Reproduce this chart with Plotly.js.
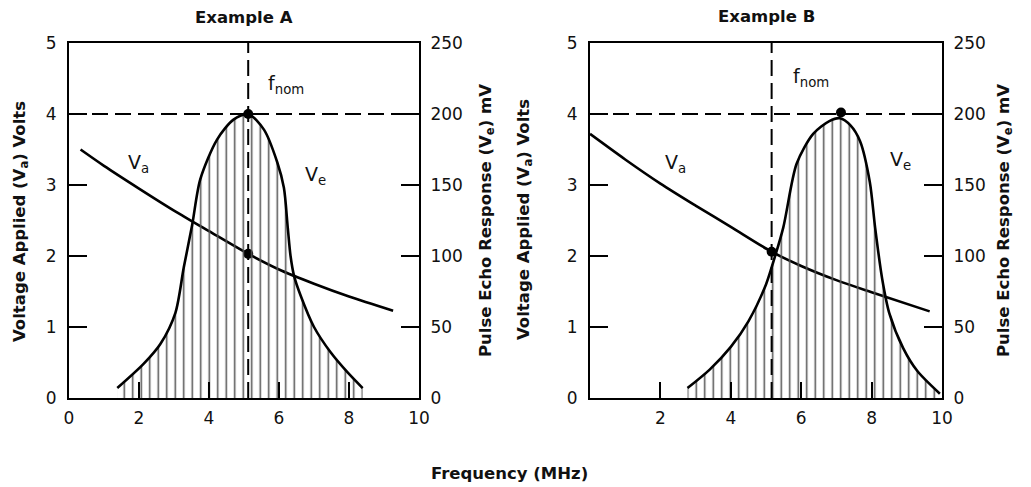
<!DOCTYPE html>
<html>
<head>
<meta charset="utf-8">
<script src="https://cdn.plot.ly/plotly-3.0.1.min.js"></script>
<style>html,body{margin:0;padding:0;background:#fff;}#chart{width:1031px;height:487px;}</style>
</head>
<body>
<div id="chart"></div>
<script>
// ---------- Data ----------
// Example A
const vaAx = [0.33, 1, 2, 3, 4, 5.12, 6, 7, 8, 9.26];
const vaAy = [3.50, 3.27, 2.95, 2.64, 2.35, 2.03, 1.81, 1.61, 1.43, 1.23];           // Volts
const veAx = [1.38, 2.13, 2.61, 3.04, 3.28, 3.52, 3.75, 4.23, 4.7, 5.12, 5.57, 5.95, 6.14, 6.25, 6.33, 6.43, 6.62, 7.0, 7.48, 7.96, 8.39];
const veAy = [7, 24, 38, 60, 92, 122, 154, 182, 196, 200, 189, 166, 148, 120, 100, 86, 72, 50, 32, 18, 7]; // mV
const fNomA = [5.12];
const dotVaA = [2.03];     // Volts at f_nom
const dotVeA = [200];      // mV peak at f_nom
// Example B
const vaBx = [0, 1, 2, 3, 4, 5.16, 6, 7, 8, 9.65];
const vaBy = [3.72, 3.36, 3.02, 2.71, 2.41, 2.06, 1.86, 1.66, 1.49, 1.22];           // Volts
const veBx = [2.77, 3.4, 4.0, 4.5, 5.0, 5.16, 5.49, 5.87, 6.34, 6.8, 7.1, 7.4, 7.67, 7.95, 8.10, 8.3, 8.5, 8.9, 9.3, 9.94];
const veBy = [7, 20, 36, 54, 80, 92, 120, 165, 186, 195, 197, 192, 181, 152, 120, 84, 60, 35, 19, 3]; // mV
const fNomB = [5.16];
const dotVaB = [2.06];
const peakBx = [7.13];
const dotVeB = [201];
const refLevelV = 4;        // dashed reference level (Volts) = 200 mV
// Tick labels
const xTicksA = [0, 2, 4, 6, 8, 10];
const xTicksB = [2, 4, 6, 8, 10];
const yTicksV = [0, 1, 2, 3, 4, 5];
const yTicksMV = [0, 50, 100, 150, 200, 250];

// ---------- Styling ----------
const FONT = 'DejaVu Sans, Verdana, sans-serif';
const hatch = {shape: '|', size: 8.5, solidity: 0.18, fgcolor: '#555', bgcolor: 'rgba(0,0,0,0)'};
const curve = {color: '#000', width: 2.6, shape: 'spline', smoothing: 0.8};
const dot = {color: '#000', size: 10};

const traces = [
  // Example A
  {x: veAx, y: veAy, xaxis: 'x', yaxis: 'y2', mode: 'lines', line: curve,
   fill: 'tozeroy', fillcolor: 'rgba(0,0,0,0)', fillpattern: hatch, hoverinfo: 'skip'},
  {x: vaAx, y: vaAy, xaxis: 'x', yaxis: 'y', mode: 'lines', line: curve},
  {x: fNomA, y: dotVaA, xaxis: 'x', yaxis: 'y', mode: 'markers', marker: dot},
  {x: fNomA, y: dotVeA, xaxis: 'x', yaxis: 'y2', mode: 'markers', marker: dot},
  // Example B
  {x: veBx, y: veBy, xaxis: 'x2', yaxis: 'y4', mode: 'lines', line: curve,
   fill: 'tozeroy', fillcolor: 'rgba(0,0,0,0)', fillpattern: hatch, hoverinfo: 'skip'},
  {x: vaBx, y: vaBy, xaxis: 'x2', yaxis: 'y3', mode: 'lines', line: curve},
  {x: fNomB, y: dotVaB, xaxis: 'x2', yaxis: 'y3', mode: 'markers', marker: dot},
  {x: peakBx, y: dotVeB, xaxis: 'x2', yaxis: 'y4', mode: 'markers', marker: dot}
];

const W = 1031, H = 487;
const px = v => v / W;
const py = v => 1 - v / H;
const yDom = [py(398), py(43)];

const axBase = {
  showgrid: false, zeroline: false, showline: true, linecolor: '#000', linewidth: 2,
  ticks: 'inside', tickcolor: '#000', tickwidth: 2,
  tickfont: {family: FONT, size: 17, color: '#111'}, fixedrange: true
};

const layout = {
  width: W, height: H,
  margin: {l: 0, r: 0, t: 0, b: 0},
  paper_bgcolor: '#fff', plot_bgcolor: '#fff',
  showlegend: false,
  font: {family: FONT, color: '#111'},
  xaxis: Object.assign({}, axBase, {domain: [px(69), px(419)], range: [0, 10], anchor: 'y',
    mirror: true, tickvals: xTicksA, ticklen: 16, ticklabelstandoff: 4}),
  yaxis: Object.assign({}, axBase, {domain: yDom, range: [0, 5], anchor: 'x',
    tickvals: yTicksV, ticklen: 18, ticklabelstandoff: 7}),
  yaxis2: Object.assign({}, axBase, {domain: yDom, range: [0, 250], anchor: 'x', overlaying: 'y', side: 'right',
    tickvals: yTicksMV, ticklen: 18, ticklabelstandoff: 6}),
  xaxis2: Object.assign({}, axBase, {domain: [px(590), px(942)], range: [0, 10], anchor: 'y3',
    mirror: true, tickvals: xTicksB, ticklen: 16, ticklabelstandoff: 4}),
  yaxis3: Object.assign({}, axBase, {domain: yDom, range: [0, 5], anchor: 'x2',
    tickvals: yTicksV, ticklen: 18, ticklabelstandoff: 7}),
  yaxis4: Object.assign({}, axBase, {domain: yDom, range: [0, 250], anchor: 'x2', overlaying: 'y3', side: 'right',
    tickvals: yTicksMV, ticklen: 18, ticklabelstandoff: 6}),
  shapes: [
    {type: 'line', xref: 'x', x0: fNomA[0], x1: fNomA[0], yref: 'y domain', y0: 0, y1: 1,
     line: {color: '#000', width: 2, dash: '16px,7px'}},
    {type: 'line', xref: 'x domain', x0: 0, x1: 1, yref: 'y', y0: refLevelV, y1: refLevelV,
     line: {color: '#000', width: 2, dash: '16px,7px'}},
    {type: 'line', xref: 'x2', x0: fNomB[0], x1: fNomB[0], yref: 'y3 domain', y0: 0, y1: 1,
     line: {color: '#000', width: 2, dash: '16px,7px'}},
    {type: 'line', xref: 'x2 domain', x0: 0, x1: 1, yref: 'y3', y0: refLevelV, y1: refLevelV,
     line: {color: '#000', width: 2, dash: '16px,7px'}}
  ],
  annotations: [
    {text: '<b>Example A</b>', xref: 'paper', yref: 'paper', x: px(244), y: py(17), xanchor: 'center', yanchor: 'middle',
     showarrow: false, font: {size: 16.5, family: FONT, color: '#111'}},
    {text: '<b>Example B</b>', xref: 'paper', yref: 'paper', x: px(766), y: py(16), xanchor: 'center', yanchor: 'middle',
     showarrow: false, font: {size: 16.5, family: FONT, color: '#111'}},
    {text: '<b>Frequency (MHz)</b>', xref: 'paper', yref: 'paper', x: px(509), y: py(473), xanchor: 'center', yanchor: 'middle',
     showarrow: false, font: {size: 16.5, family: FONT, color: '#111'}},
    {text: '<b>Voltage Applied (V<sub>a</sub>) Volts</b>', xref: 'paper', yref: 'paper', x: px(20), y: py(222),
     xanchor: 'center', yanchor: 'middle', textangle: -90, showarrow: false, font: {size: 16.5, family: FONT, color: '#111'}},
    {text: '<b>Pulse Echo Response (V<sub>e</sub>) mV</b>', xref: 'paper', yref: 'paper', x: px(486), y: py(221),
     xanchor: 'center', yanchor: 'middle', textangle: -90, showarrow: false, font: {size: 16.5, family: FONT, color: '#111'}},
    {text: '<b>Voltage Applied (V<sub>a</sub>) Volts</b>', xref: 'paper', yref: 'paper', x: px(524), y: py(220),
     xanchor: 'center', yanchor: 'middle', textangle: -90, showarrow: false, font: {size: 16.5, family: FONT, color: '#111'}},
    {text: '<b>Pulse Echo Response (V<sub>e</sub>) mV</b>', xref: 'paper', yref: 'paper', x: px(1004), y: py(221),
     xanchor: 'center', yanchor: 'middle', textangle: -90, showarrow: false, font: {size: 16.5, family: FONT, color: '#111'}},
    // in-plot labels
    {text: 'V<sub>a</sub>', xref: 'x', yref: 'y', x: 1.98, y: 3.30, xanchor: 'center', yanchor: 'middle', showarrow: false, font: {size: 19, family: FONT, color: '#111'}},
    {text: 'V<sub>e</sub>', xref: 'x', yref: 'y', x: 7.05, y: 3.13, xanchor: 'center', yanchor: 'middle', showarrow: false, font: {size: 19, family: FONT, color: '#111'}},
    {text: 'f<sub>nom</sub>', xref: 'x', yref: 'y', x: 5.62, y: 4.41, xanchor: 'left', yanchor: 'middle', showarrow: false, font: {size: 19, family: FONT, color: '#111'}},
    {text: 'V<sub>a</sub>', xref: 'x2', yref: 'y3', x: 2.44, y: 3.30, xanchor: 'center', yanchor: 'middle', showarrow: false, font: {size: 19, family: FONT, color: '#111'}},
    {text: 'V<sub>e</sub>', xref: 'x2', yref: 'y3', x: 8.81, y: 3.35, xanchor: 'center', yanchor: 'middle', showarrow: false, font: {size: 19, family: FONT, color: '#111'}},
    {text: 'f<sub>nom</sub>', xref: 'x2', yref: 'y3', x: 5.70, y: 4.51, xanchor: 'left', yanchor: 'middle', showarrow: false, font: {size: 19, family: FONT, color: '#111'}}
  ]
};

Plotly.newPlot('chart', traces, layout, {displayModeBar: false, staticPlot: true});
</script>
</body>
</html>
